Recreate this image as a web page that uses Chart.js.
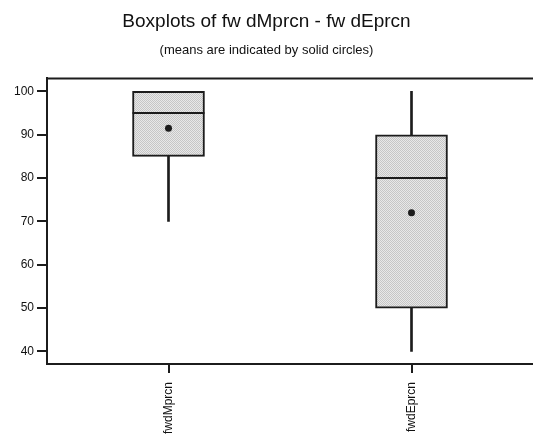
<!DOCTYPE html>
<html>
<head>
<meta charset="utf-8">
<script src="https://cdn.jsdelivr.net/npm/chart.js@4/dist/chart.umd.min.js"></script>
<style>
  body { margin: 0; background: #fff; }
  #wrap { width: 533px; height: 440px; position: relative; }
</style>
</head>
<body>
<div id="wrap"><canvas id="chart"></canvas></div>
<script>
// box plot summaries
const categories = ["fwdMprcn", "fwdEprcn"];
const lowWhisker = [70, 40];
const q1 = [85, 50];
const medians = [95, 80];
const q3 = [100, 90];
const highWhisker = [100, 100];
const means = [91.5, 72];
const yTicks = [40, 50, 60, 70, 80, 90, 100];

const ink = "#1c1c1c";
const font = "'Liberation Sans', Arial, sans-serif";

// stippled grey like the original print
function stipple() {
  const c = document.createElement("canvas");
  c.width = 2;
  c.height = 2;
  const g = c.getContext("2d");
  g.fillStyle = "#e8e8e8";
  g.fillRect(0, 0, 2, 2);
  g.fillStyle = "#c6c6c6";
  g.fillRect(0, 0, 1, 1);
  g.fillRect(1, 1, 1, 1);
  return g.createPattern(c, "repeat");
}

const topFrame = {
  id: "topFrame",
  afterDraw(chart) {
    const {ctx, chartArea} = chart;
    ctx.save();
    ctx.strokeStyle = ink;
    ctx.lineWidth = 2;
    ctx.beginPath();
    ctx.moveTo(chartArea.left - 1, chartArea.top);
    ctx.lineTo(chartArea.right, chartArea.top);
    ctx.stroke();
    ctx.restore();
  },
};

new Chart(document.getElementById("chart"), {
  data: {
    labels: categories,
    datasets: [
      {
        type: "line",
        label: "mean",
        data: means,
        showLine: false,
        pointStyle: "circle",
        pointRadius: 3.5,
        pointBackgroundColor: ink,
        pointBorderColor: ink,
        pointBorderWidth: 0,
      },
      {
        type: "line",
        label: "median",
        data: medians,
        showLine: false,
        pointStyle: "line",
        pointRadius: 36,
        pointBorderColor: ink,
        pointBorderWidth: 2,
      },
      {
        type: "bar",
        label: "box",
        data: categories.map((c, i) => [q1[i], q3[i]]),
        grouped: false,
        barThickness: 72,
        backgroundColor: stipple(),
        borderColor: ink,
        borderWidth: 2,
        borderSkipped: false,
      },
      {
        type: "bar",
        label: "lower whisker",
        data: categories.map((c, i) => [lowWhisker[i], q1[i]]),
        grouped: false,
        barThickness: 2,
        backgroundColor: ink,
        borderWidth: 0,
      },
      {
        type: "bar",
        label: "upper whisker",
        data: categories.map((c, i) => [q3[i], highWhisker[i]]),
        grouped: false,
        barThickness: 2,
        backgroundColor: ink,
        borderWidth: 0,
      },
    ],
  },
  options: {
    responsive: true,
    maintainAspectRatio: false,
    animation: false,
    layout: {padding: 0, autoPadding: false},
    plugins: {
      legend: {display: false},
      tooltip: {enabled: false},
      title: {
        display: true,
        text: "Boxplots of fw dMprcn - fw dEprcn",
        color: "#111",
        font: {family: font, size: 19, weight: "normal"},
        padding: {top: 10, bottom: 4},
      },
      subtitle: {
        display: true,
        text: "(means are indicated by solid circles)",
        color: "#111",
        font: {family: font, size: 13, weight: "normal"},
        padding: {top: 6, bottom: 20},
      },
    },
    scales: {
      x: {
        type: "category",
        offset: true,
        grid: {
          offset: false,
          drawOnChartArea: false,
          drawTicks: true,
          tickLength: 9,
          color: ink,
          lineWidth: 2,
        },
        border: {display: true, color: ink, width: 2},
        ticks: {
          minRotation: 90,
          maxRotation: 90,
          padding: 9,
          color: "#111",
          font: {family: font, size: 12},
        },
        afterFit(scale) {
          scale.height = 76;
          scale.paddingLeft = 0;
          scale.paddingRight = 0;
        },
      },
      y: {
        type: "linear",
        min: 37.1,
        max: 103,
        afterBuildTicks(scale) {
          scale.ticks = yTicks.map(v => ({value: v}));
        },
        grid: {
          drawOnChartArea: false,
          drawTicks: true,
          tickLength: 10,
          color: ink,
          lineWidth: 2,
        },
        border: {display: true, color: ink, width: 2},
        ticks: {
          padding: 3,
          color: "#111",
          font: {family: font, size: 12},
        },
        afterFit(scale) { scale.width = 47; },
      },
    },
  },
  plugins: [topFrame],
});
</script>
</body>
</html>
